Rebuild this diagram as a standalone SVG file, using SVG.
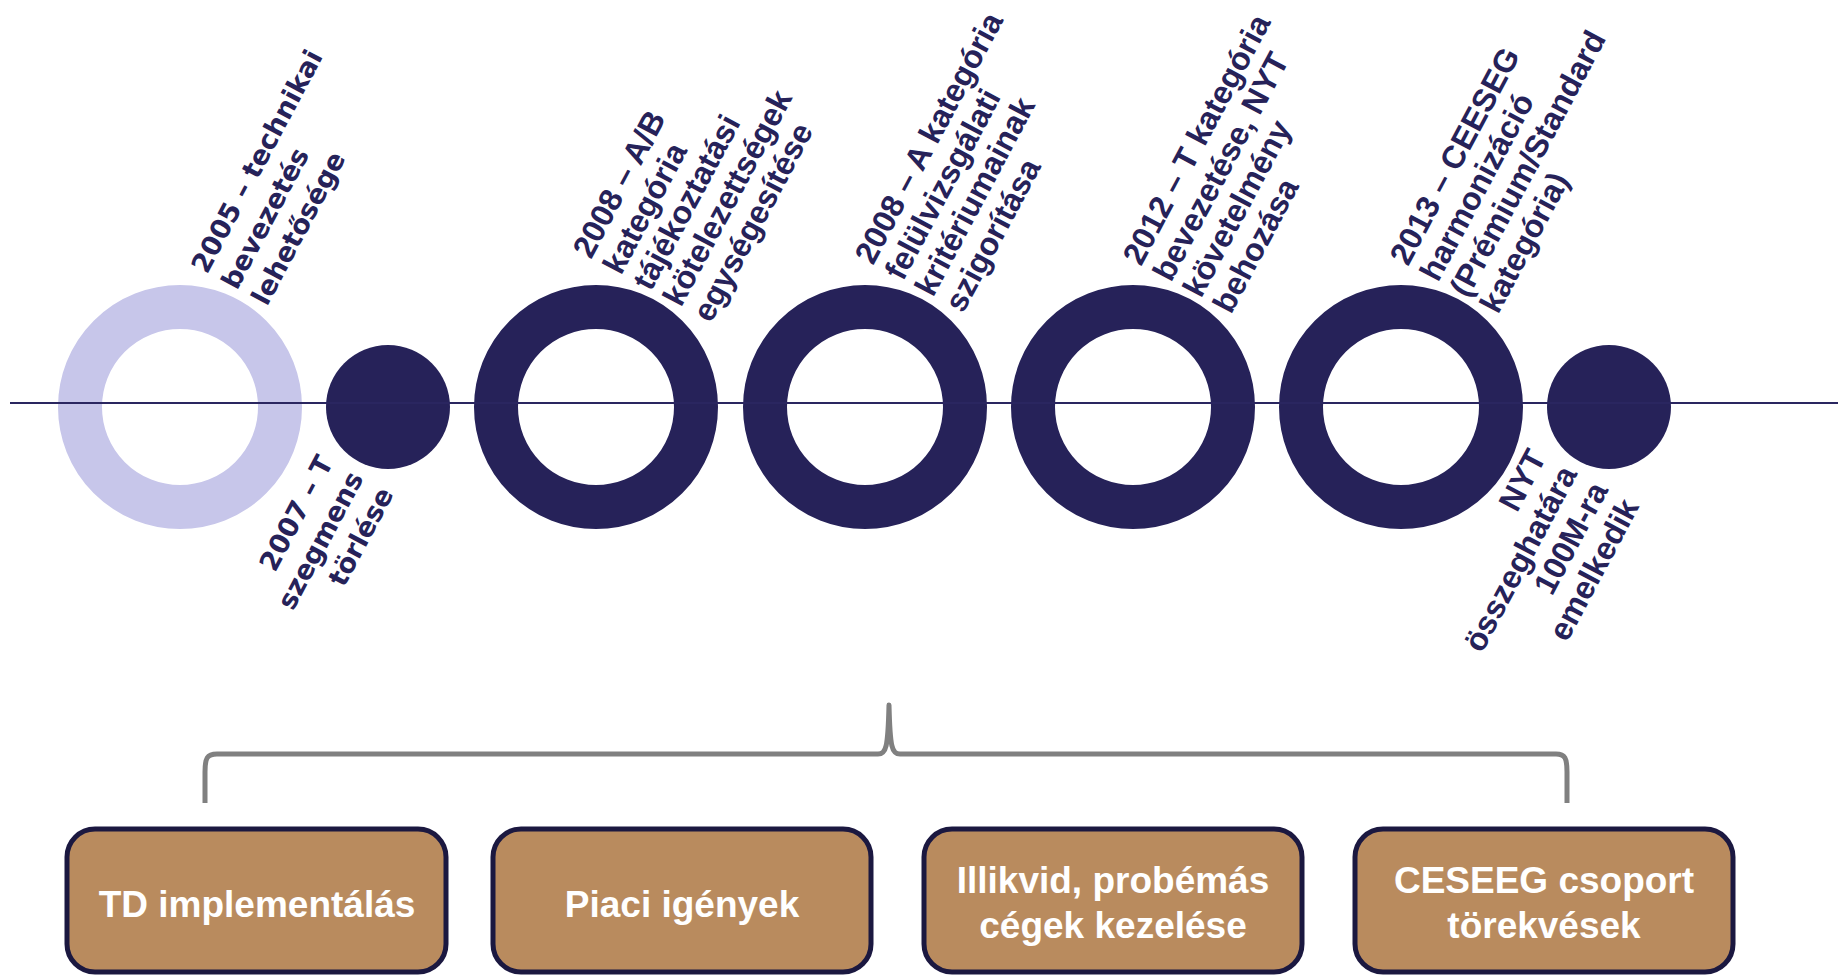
<svg xmlns="http://www.w3.org/2000/svg" width="1838" height="976" viewBox="0 0 1838 976">
<style>
.ring{fill:none;stroke:#262259;stroke-width:44}
.ringl{fill:none;stroke:#C7C6EA;stroke-width:44}
.dot{fill:#262259}
.lbl{font-family:"Liberation Sans",Arial,sans-serif;font-weight:bold;font-size:32px;fill:#262259}
.lblv{font-family:"DejaVu Sans",Verdana,sans-serif;font-weight:bold;font-size:27px;fill:#262259}
.box{fill:#B98B5E;stroke:#1B1840;stroke-width:5}
.bt{font-family:"Liberation Sans",Arial,sans-serif;font-weight:bold;font-size:37px;fill:#FFFFFF;text-anchor:middle}
</style>
<rect width="1838" height="976" fill="#FFFFFF"/>
<g id="ring-2005"><circle class="ringl" cx="180" cy="407" r="100"/></g>
<g id="dot-2007"><circle class="dot" cx="388" cy="407" r="62"/></g>
<g id="ring-2008ab"><circle class="ring" cx="596" cy="407" r="100"/></g>
<g id="ring-2008a"><circle class="ring" cx="865" cy="407" r="100"/></g>
<g id="ring-2012"><circle class="ring" cx="1133" cy="407" r="100"/></g>
<g id="ring-2013"><circle class="ring" cx="1401" cy="407" r="100"/></g>
<g id="dot-nyt"><circle class="dot" cx="1609" cy="407" r="62"/></g>
<g id="connectors">
<line x1="10" y1="403" x2="1838" y2="403" stroke="#2A2660" stroke-width="2"/>
<path d="M205,803 L205,772 C205,758 207,754 217,754 L878,754 C886,754 888,748 889,705 C890,748 892,754 900,754 L1556,754 C1565,754 1567,758 1567,772 L1567,803" fill="none" stroke="#808080" stroke-width="5" stroke-linejoin="round"/>
</g>
<g id="label-2005"><text class="lblv" transform="translate(207,275) rotate(-62)"><tspan x="0" y="0">2005 – technikai</tspan><tspan x="0" y="34">bevezetés</tspan><tspan x="0" y="68">lehetősége</tspan></text></g>
<g id="label-2007"><text class="lblv" text-anchor="end" transform="translate(334,462) rotate(-62)"><tspan x="0" y="0">2007 – T</tspan><tspan x="0" y="34">szegmens</tspan><tspan x="0" y="68">törlése</tspan></text></g>
<g id="label-2008ab"><text class="lbl" transform="translate(591,260) rotate(-62)"><tspan x="0" y="0">2008 – A/B</tspan><tspan x="0" y="34">kategória</tspan><tspan x="0" y="68">tájékoztatási</tspan><tspan x="0" y="102">kötelezettségek</tspan><tspan x="0" y="136">egységesítése</tspan></text></g>
<g id="label-2008a"><text class="lbl" transform="translate(873,266) rotate(-62)"><tspan x="0" y="0">2008 – A kategória</tspan><tspan x="0" y="34">felülvizsgálati</tspan><tspan x="0" y="68">kritériumainak</tspan><tspan x="0" y="102">szigorítása</tspan></text></g>
<g id="label-2012"><text class="lbl" transform="translate(1141,267) rotate(-62)"><tspan x="0" y="0">2012 – T kategória</tspan><tspan x="0" y="34">bevezetése, NYT</tspan><tspan x="0" y="68">követelmény</tspan><tspan x="0" y="102">behozása</tspan></text></g>
<g id="label-2013"><text class="lbl" transform="translate(1408,267) rotate(-62)"><tspan x="0" y="0">2013 – CEESEG</tspan><tspan x="0" y="34">harmonizáció</tspan><tspan x="0" y="68">(Prémium/Standard</tspan><tspan x="0" y="102">kategória)</tspan></text></g>
<g id="label-nyt"><text class="lbl" text-anchor="end" transform="translate(1547,457) rotate(-62)"><tspan x="0" y="0">NYT</tspan><tspan x="0" y="35">összeghatára</tspan><tspan x="0" y="70">100M-ra</tspan><tspan x="0" y="105">emelkedik</tspan></text></g>
<g id="box-td"><rect class="box" x="67" y="829" width="379" height="143" rx="28"/><text class="bt" x="257" y="917">TD implementálás</text></g>
<g id="box-piaci"><rect class="box" x="493" y="829" width="378" height="143" rx="28"/><text class="bt" x="682" y="917">Piaci igények</text></g>
<g id="box-illikvid"><rect class="box" x="924" y="829" width="378" height="143" rx="28"/><text class="bt" x="1113" y="893">Illikvid, probémás</text><text class="bt" x="1113" y="938">cégek kezelése</text></g>
<g id="box-ceseeg"><rect class="box" x="1355" y="829" width="378" height="143" rx="28"/><text class="bt" x="1544" y="893">CESEEG csoport</text><text class="bt" x="1544" y="938">törekvések</text></g>
</svg>
